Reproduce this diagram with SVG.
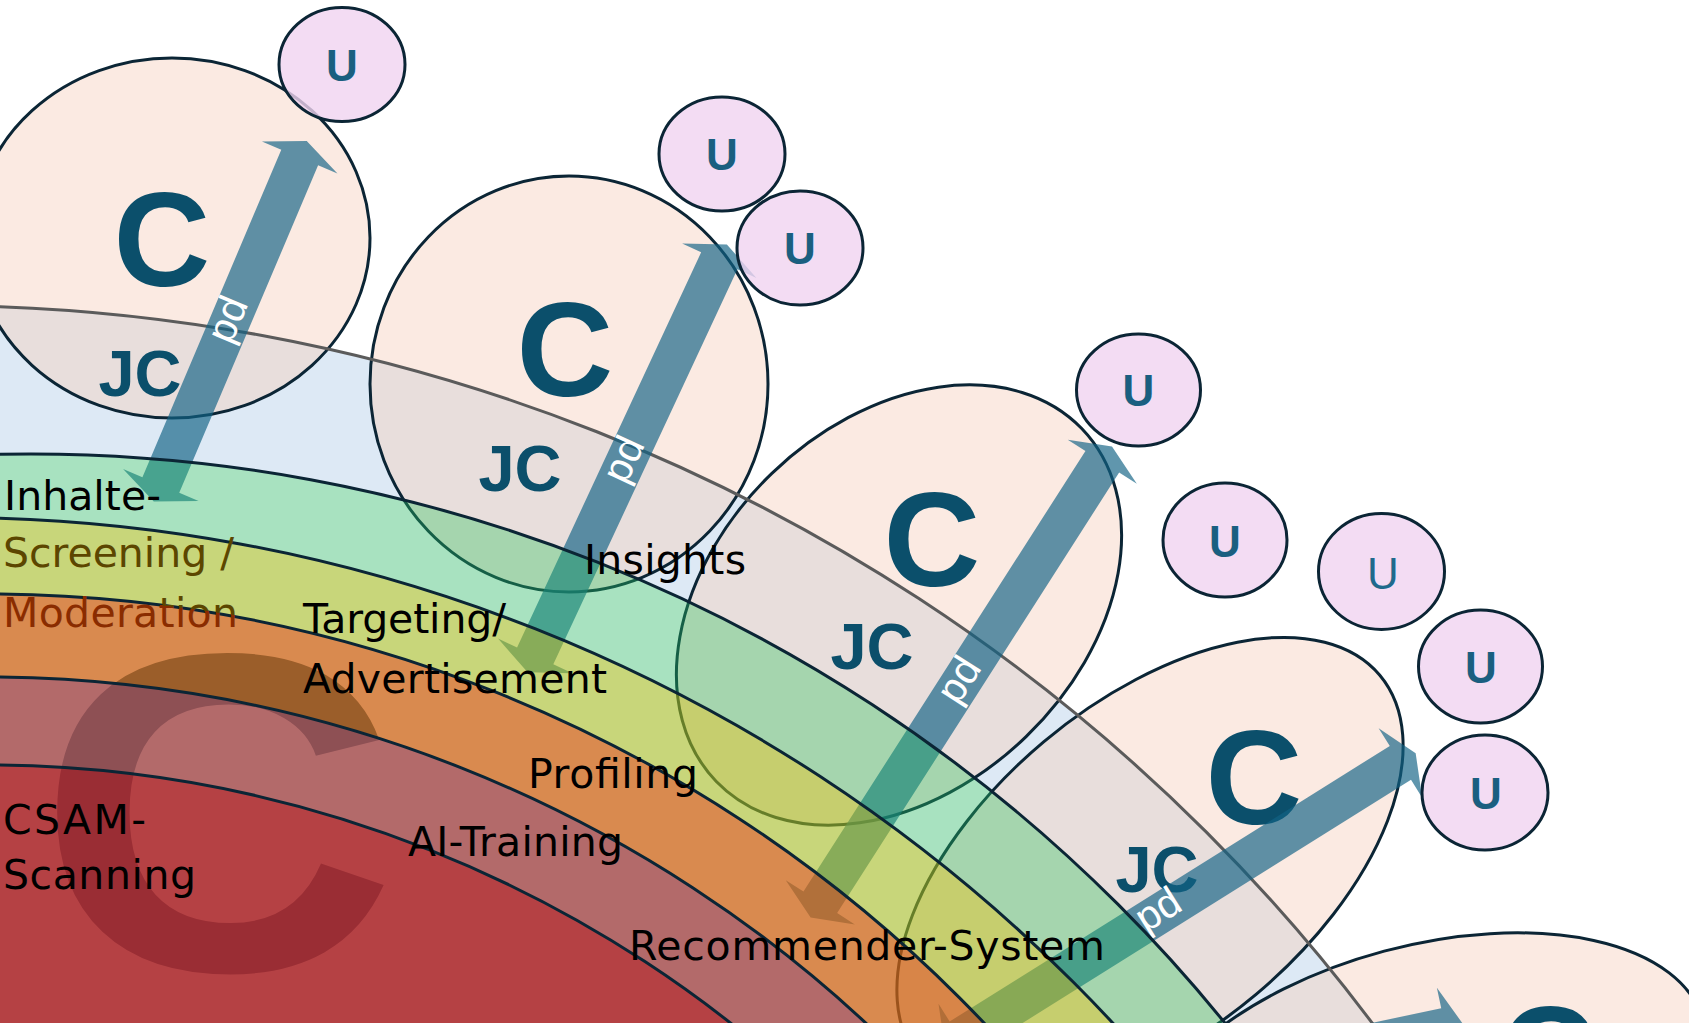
<svg xmlns="http://www.w3.org/2000/svg" width="1689" height="1023" viewBox="0 0 1689 1023">
<defs>
<style>
.ell{fill:#f6d0be;fill-opacity:0.45;stroke:#0b2535;stroke-width:3}
.cbig{font-family:'Liberation Sans',Arial,sans-serif;font-weight:bold;font-size:134px;fill:#0b4f6b;text-anchor:middle}
.jc{font-family:'Liberation Sans',Arial,sans-serif;font-weight:bold;font-size:65px;fill:#0b4f6b;text-anchor:middle}
.arrow{fill:#126284;fill-opacity:0.67}
.pd{font-family:'Liberation Sans',Arial,sans-serif;font-size:41px;fill:#ffffff;text-anchor:middle}
.uc{fill:#f0d3f0;fill-opacity:0.8;stroke:#0b2535;stroke-width:3}
.ut{font-family:'Liberation Sans',Arial,sans-serif;font-weight:bold;font-size:44px;fill:#1a5f80;text-anchor:middle}
.utr{font-family:'Liberation Sans',Arial,sans-serif;font-weight:normal;font-size:44px;fill:#1f6a8c;text-anchor:middle}
.bline{fill:none;stroke:#0b2535;stroke-width:3}
.gline{fill:none;stroke:#5b5b5b;stroke-width:3}
.lbl{font-family:'DejaVu Sans',sans-serif;font-size:41px;fill:#000000}
</style>
<linearGradient id="modGrad" gradientUnits="userSpaceOnUse" x1="166.3" y1="595.8" x2="163.7" y2="615.6">
<stop offset="0" stop-color="#5c4600"/>
<stop offset="0.5" stop-color="#5c4600"/>
<stop offset="0.5" stop-color="#8a2c00"/>
<stop offset="1" stop-color="#8a2c00"/>
</linearGradient>
</defs>
<rect x="0" y="0" width="1689" height="1023" fill="#ffffff"/>

<g id="band-jc-base">
<path fill="#dde9f5" fill-rule="evenodd" d="M -1863 2103.5 A 1798 1798 0 1 0 1733 2103.5 A 1798 1798 0 1 0 -1863 2103.5 Z M -1506 1991 A 1537 1537 0 1 0 1568 1991 A 1537 1537 0 1 0 -1506 1991 Z"/>
</g>

<g id="watermark-C">
<text transform="translate(217,970) scale(1.1,1)" x="0" y="0" style="font-family:'Liberation Sans',Arial,sans-serif;font-weight:bold;font-size:454px;fill:#0b4f6b;text-anchor:middle">C</text>
</g>

<g id="node-C1">
<ellipse class="ell" cx="172" cy="238" rx="198" ry="180"/>
<text class="cbig" x="162" y="286">C</text>
<text class="jc" x="140" y="396">JC</text>
</g>
<g id="node-C2">
<ellipse class="ell" cx="569" cy="384" rx="199" ry="208"/>
<text class="cbig" x="565" y="396">C</text>
<text class="jc" x="520" y="491">JC</text>
</g>
<g id="node-C3">
<ellipse class="ell" cx="0" cy="0" rx="254" ry="183" transform="translate(899,605) rotate(-44)"/>
<text class="cbig" x="932" y="586">C</text>
<text class="jc" x="872" y="669">JC</text>
</g>
<g id="node-C4">
<ellipse class="ell" cx="0" cy="0" rx="300" ry="165" transform="translate(1150,868) rotate(-40)"/>
<text class="cbig" x="1254" y="824">C</text>
<text class="jc" x="1157" y="892">JC</text>
</g>
<g id="node-C5">
<ellipse class="ell" cx="0" cy="0" rx="290" ry="150" transform="translate(1423,1096) rotate(-15)"/>
<text class="cbig" x="1548" y="1100">C</text>
</g>

<g id="jc-outline">
<path class="gline" d="M -1863 2103.5 A 1798 1798 0 1 0 1733 2103.5 A 1798 1798 0 1 0 -1863 2103.5 Z"/>
</g>

<g id="connectors">
<polygon class="arrow" transform="translate(153.8,501.6) rotate(-67.02)" points="0,0 18,41 18,20 373.7,20 373.7,41 391.7,0 373.7,-41 373.7,-20 18,-20 18,-41"/>
<text class="pd" transform="translate(231,321) rotate(112.98)" x="0" y="12">pd</text>
<polygon class="arrow" transform="translate(527.6,672.2) rotate(-65.02)" points="0,0 18,41 18,20 453.9,20 453.9,41 471.9,0 453.9,-41 453.9,-20 18,-20 18,-41"/>
<text class="pd" transform="translate(627,461) rotate(114.98)" x="0" y="12">pd</text>
<polygon class="arrow" transform="translate(810.6,917.5) rotate(-57.38)" points="0,0 18,41 18,20 541.1,20 541.1,41 559.1,0 541.1,-41 541.1,-20 18,-20 18,-41"/>
<text class="pd" transform="translate(962,682) rotate(122.62)" x="0" y="12">pd</text>
<polygon class="arrow" transform="translate(945,1048) rotate(-32.05)" points="0,0 18,41 18,20 537.3,20 537.3,41 555.3,0 537.3,-41 537.3,-20 18,-20 18,-41"/>
<text class="pd" transform="translate(1160,913) rotate(147.95)" x="0" y="12">pd</text>
<polygon class="arrow" transform="translate(1072,1107) rotate(-11.98)" points="0,0 18,41 18,20 381.7,20 381.7,41 399.7,0 381.7,-41 381.7,-20 18,-20 18,-41"/>
</g>

<g id="node-U1"><ellipse class="uc" cx="342" cy="64.5" rx="63" ry="57"/><text class="ut" x="342" y="80.5">U</text></g>
<g id="node-U2"><ellipse class="uc" cx="722" cy="154" rx="63" ry="57"/><text class="ut" x="722" y="170">U</text></g>
<g id="node-U3"><ellipse class="uc" cx="800" cy="248" rx="63" ry="57"/><text class="ut" x="800" y="264">U</text></g>
<g id="node-U4"><ellipse class="uc" cx="1138.5" cy="390" rx="62" ry="56"/><text class="ut" x="1138.5" y="406">U</text></g>
<g id="node-U5"><ellipse class="uc" cx="1225" cy="540" rx="62" ry="57"/><text class="ut" x="1225" y="557">U</text></g>
<g id="node-U6"><ellipse class="uc" cx="1381.5" cy="571.5" rx="63" ry="58"/><text class="utr" x="1383" y="589">U</text></g>
<g id="node-U7"><ellipse class="uc" cx="1480.5" cy="666.5" rx="62" ry="56.5"/><text class="ut" x="1481" y="683">U</text></g>
<g id="node-U8"><ellipse class="uc" cx="1485" cy="792.5" rx="63" ry="57.5"/><text class="ut" x="1486" y="809">U</text></g>

<g id="bands-overlay">
<path fill="#26b762" fill-opacity="0.4" fill-rule="evenodd" d="M -1506 1991 A 1537 1537 0 1 0 1568 1991 A 1537 1537 0 1 0 -1506 1991 Z M -1635.9 2105.3 A 1587.1 1587.1 0 1 0 1538.3 2105.3 A 1587.1 1587.1 0 1 0 -1635.9 2105.3 Z"/>
<path fill="#a3bb21" fill-opacity="0.6" fill-rule="evenodd" d="M -1635.9 2105.3 A 1587.1 1587.1 0 1 0 1538.3 2105.3 A 1587.1 1587.1 0 1 0 -1635.9 2105.3 Z M -1392.3 1971.3 A 1377.4 1377.4 0 1 0 1362.5 1971.3 A 1377.4 1377.4 0 1 0 -1392.3 1971.3 Z"/>
<path fill="#cc6314" fill-opacity="0.75" fill-rule="evenodd" d="M -1392.3 1971.3 A 1377.4 1377.4 0 1 0 1362.5 1971.3 A 1377.4 1377.4 0 1 0 -1392.3 1971.3 Z M -1309 1971 A 1294 1294 0 1 0 1279 1971 A 1294 1294 0 1 0 -1309 1971 Z"/>
<path fill="#a65050" fill-opacity="0.85" fill-rule="evenodd" d="M -1309 1971 A 1294 1294 0 1 0 1279 1971 A 1294 1294 0 1 0 -1309 1971 Z M -1221 1971 A 1206 1206 0 1 0 1191 1971 A 1206 1206 0 1 0 -1221 1971 Z"/>
<path fill="#ac2a2d" fill-opacity="0.89" d="M -1221 1971 A 1206 1206 0 1 0 1191 1971 A 1206 1206 0 1 0 -1221 1971 Z"/>
</g>

<g id="band-lines">
<path class="bline" d="M -1506 1991 A 1537 1537 0 1 0 1568 1991 A 1537 1537 0 1 0 -1506 1991 Z"/>
<path class="bline" d="M -1635.9 2105.3 A 1587.1 1587.1 0 1 0 1538.3 2105.3 A 1587.1 1587.1 0 1 0 -1635.9 2105.3 Z"/>
<path class="bline" d="M -1392.3 1971.3 A 1377.4 1377.4 0 1 0 1362.5 1971.3 A 1377.4 1377.4 0 1 0 -1392.3 1971.3 Z"/>
<path class="bline" d="M -1309 1971 A 1294 1294 0 1 0 1279 1971 A 1294 1294 0 1 0 -1309 1971 Z"/>
<path class="bline" d="M -1221 1971 A 1206 1206 0 1 0 1191 1971 A 1206 1206 0 1 0 -1221 1971 Z"/>
</g>

<g id="labels">
<text class="lbl" x="4" y="510" textLength="157">Inhalte-</text>
<text class="lbl" x="3" y="567" textLength="231" style="fill:#5c4600">Screening /</text>
<text class="lbl" x="3" y="627" textLength="235" style="fill:url(#modGrad)">Moderation</text>
<text class="lbl" x="303" y="633" textLength="203">Targeting/</text>
<text class="lbl" x="303" y="693" textLength="304">Advertisement</text>
<text class="lbl" x="584" y="574" textLength="162">Insights</text>
<text class="lbl" x="528" y="788" textLength="170">Profiling</text>
<text class="lbl" x="408" y="856" textLength="215">AI-Training</text>
<text class="lbl" x="3" y="834" textLength="143">CSAM-</text>
<text class="lbl" x="3" y="889" textLength="193">Scanning</text>
<text class="lbl" x="629" y="960" textLength="476">Recommender-System</text>
</g>
</svg>
